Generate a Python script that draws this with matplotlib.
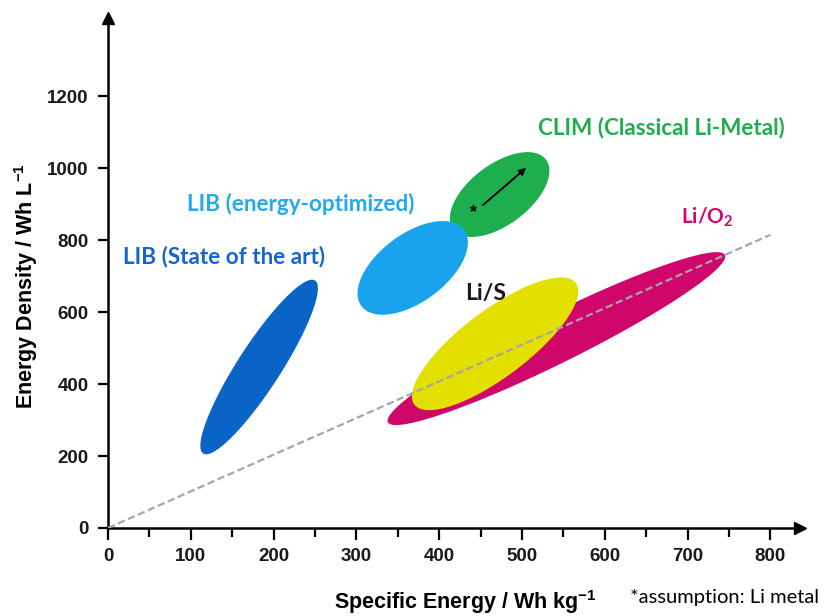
import numpy as np
import matplotlib
matplotlib.use("Agg")
import matplotlib.pyplot as plt

# battery regions, given by the two ends of the long axis (Wh/kg, Wh/L)
techs = ["LIB (State of the art)", "Li/O$_{\\mathsf{2}}$", "Li/S",
         "CLIM (Classical Li-Metal)", "LIB (energy-optimized)"]
start_x = [115, 338, 370, 417, 306]
start_y = [207, 294, 343, 830, 617]
end_x = [250, 745, 565, 529, 430]
end_y = [688, 759, 681, 1024, 829]
ratio = [0.21, 0.13, 0.33, 0.52, 0.53]  # short / long axis

fill_cols = ["#0A64C8", "#D0076A", "#E3E000", "#1FAE4E", "#19A3EE"]
text_cols = ["#1466CC", "#D0076A", "#1A1A1A", "#1FAE4E", "#22A9F0"]
label_x = [18, 692, 431, 519, 95]
label_y = [756, 865, 653, 1113, 901]
label_size = [16.2, 15, 16.5, 16.2, 16.2]

# gravimetric = volumetric guide line
guide_x = [0, 800]
guide_y = [0, 815]

# Li-metal arrow inside CLIM
arrow_from = (453, 898)
arrow_to = (505, 1001)
star_pos = (441, 878)

x_ticks = list(range(0, 801, 100))
x_minor = list(range(50, 801, 100))
y_ticks = list(range(0, 1201, 200))

plt.rcParams["font.family"] = ["Liberation Sans", "DejaVu Sans"]
plt.rcParams["mathtext.fontset"] = "custom"
plt.rcParams["mathtext.bf"] = "Liberation Sans:bold"
plt.rcParams["mathtext.sf"] = "Lato:bold"

fig = plt.figure(figsize=(8.27, 6.16), dpi=100)
ax = fig.add_axes([0.1306, 0.1429, 0.837, 0.828])
ax.set_xlim(0, 836)
ax.set_ylim(0, 1418)


def region(ax, x0, y0, x1, y1, r, **kw):
    # build the ellipse in screen units so it keeps its shape on unequal scales
    bb = ax.bbox
    xl, yl = ax.get_xlim(), ax.get_ylim()
    sx = bb.width / (xl[1] - xl[0])
    sy = bb.height / (yl[1] - yl[0])
    p0 = np.array([x0 * sx, y0 * sy])
    p1 = np.array([x1 * sx, y1 * sy])
    c = (p0 + p1) / 2
    a = (p1 - p0) / 2
    b = np.array([-a[1], a[0]]) * r
    t = np.linspace(0, 2 * np.pi, 300)
    pts = c + np.outer(np.cos(t), a) + np.outer(np.sin(t), b)
    ax.fill(pts[:, 0] / sx, pts[:, 1] / sy, lw=0, clip_on=False, **kw)


for i in range(len(techs)):
    region(ax, start_x[i], start_y[i], end_x[i], end_y[i], ratio[i],
           color=fill_cols[i], zorder=2 + i)
    ax.text(label_x[i], label_y[i], techs[i], color=text_cols[i],
            family=["Lato", "DejaVu Sans"], fontweight="bold",
            fontsize=label_size[i], ha="left", va="center", zorder=10)

ax.plot(guide_x, guide_y, color="#A6A6A6", lw=1.6, dashes=(3.3, 1.6), zorder=9)

ax.annotate("", xy=arrow_to, xytext=arrow_from,
            arrowprops=dict(arrowstyle="-|>", color="black", lw=1.3,
                            mutation_scale=10, shrinkA=0, shrinkB=0), zorder=11)
ax.text(star_pos[0], star_pos[1], "*", fontsize=13, fontweight="bold",
        ha="center", va="center", zorder=11)

# axes with arrow heads
for s in ["top", "right"]:
    ax.spines[s].set_visible(False)
for s in ["left", "bottom"]:
    ax.spines[s].set_linewidth(1.8)
ax.plot(1, 0, ">k", ms=8, transform=ax.get_yaxis_transform(), clip_on=False)
ax.plot(0, 1, "^k", ms=8, transform=ax.get_xaxis_transform(), clip_on=False)

ax.set_xticks(x_ticks)
ax.set_xticks(x_minor, minor=True)
ax.set_yticks(y_ticks)
ax.tick_params(axis="x", which="major", length=8.5, width=1.6, pad=6,
               labelsize=13.5)
ax.tick_params(axis="x", which="minor", length=6.5, width=1.6)
ax.tick_params(axis="y", length=7, width=1.6, pad=7, labelsize=13.5)
for lab in ax.get_xticklabels() + ax.get_yticklabels():
    lab.set_fontweight("bold")
    lab.set_color("#1A1A1A")

ax.set_xlabel("Specific Energy / Wh kg$^{\\mathbf{-1}}$", fontsize=15.5,
              fontweight="bold", va="center")
ax.xaxis.set_label_coords(0.5157, -0.146)
ax.set_ylabel("Energy Density / Wh L$^{\\mathbf{-1}}$", fontsize=15.5,
              fontweight="bold", va="center")
ax.yaxis.set_label_coords(-0.1185, 0.4745)

fig.text(630 / 827, 1 - 598 / 616, "*assumption: Li metal", fontsize=14.5,
         family=["Lato", "DejaVu Sans"], ha="left", va="center")

fig.savefig("out.png", dpi=100)
